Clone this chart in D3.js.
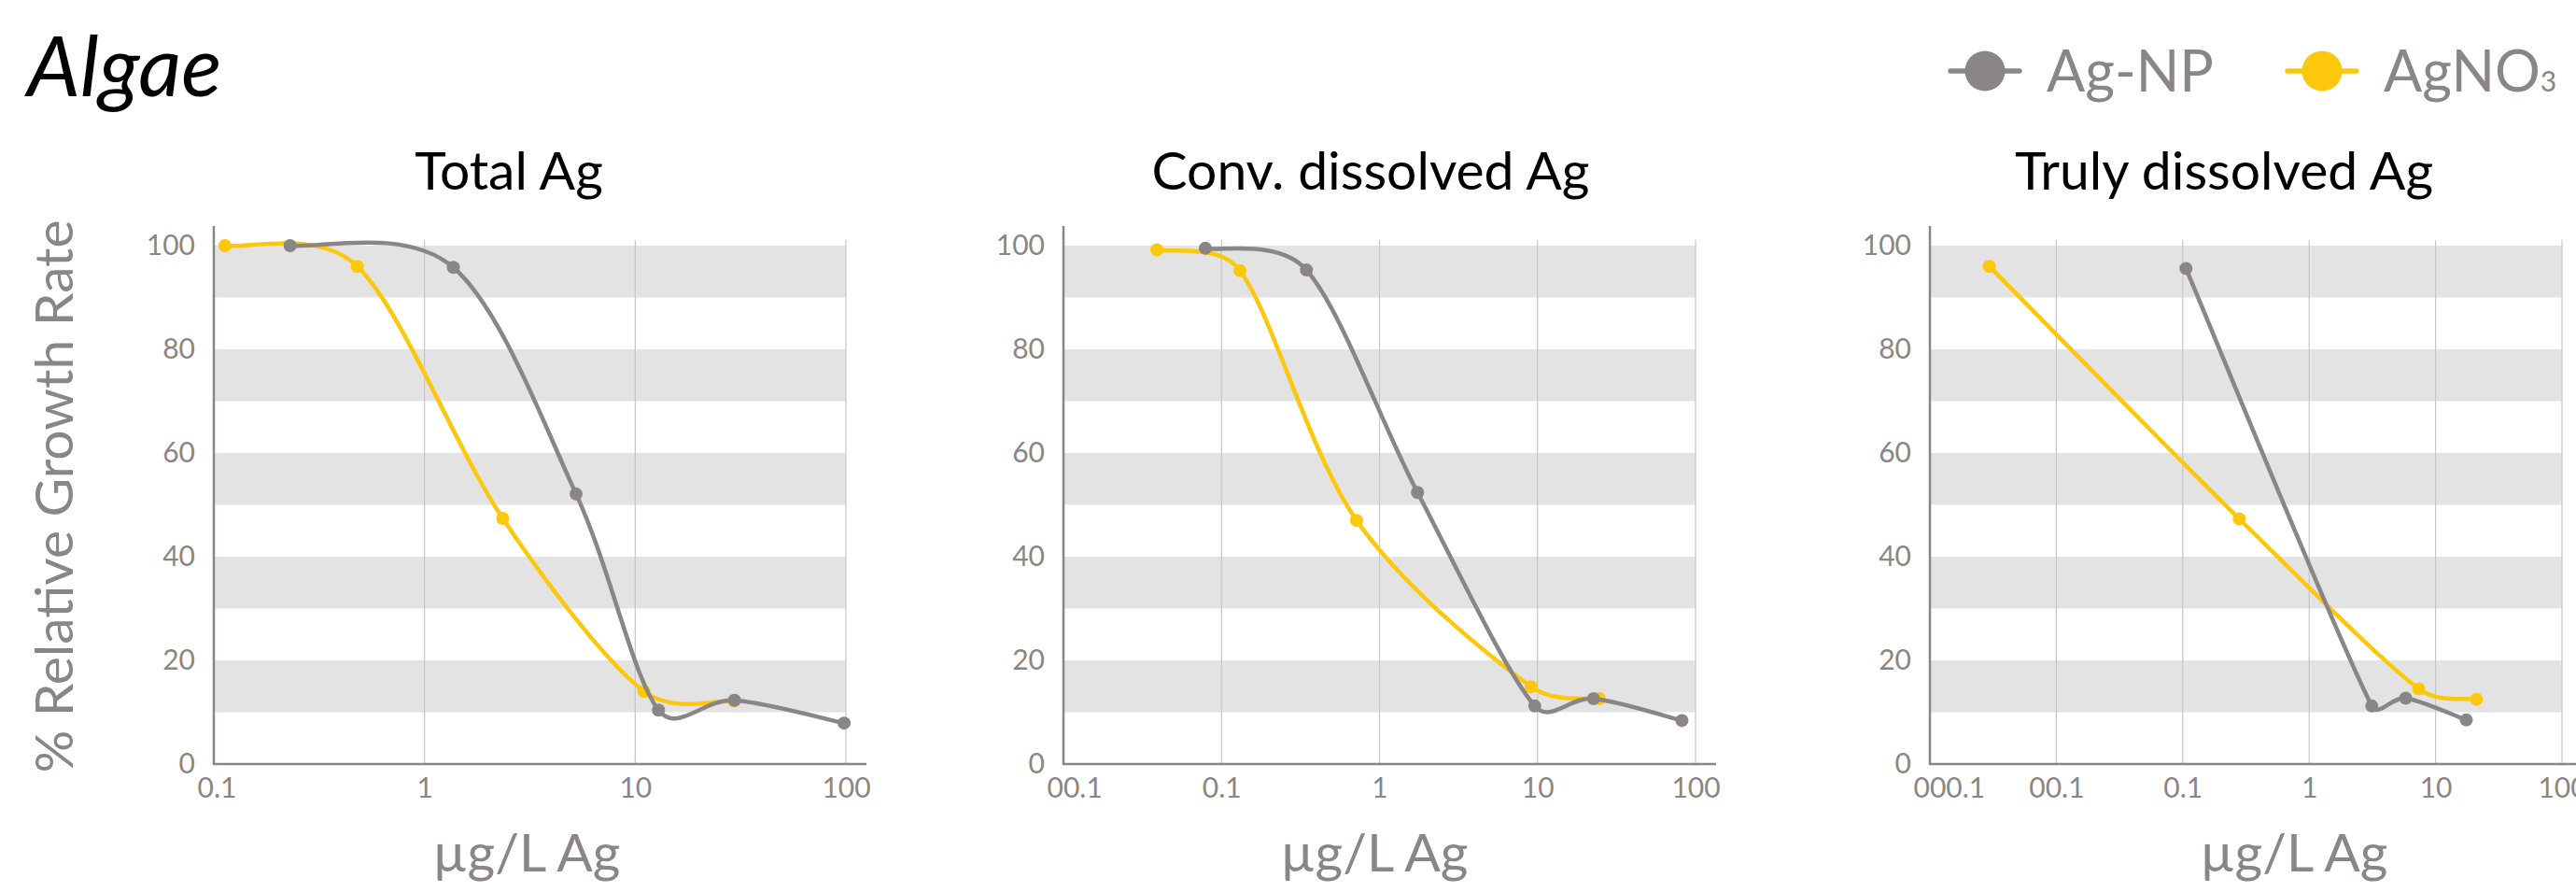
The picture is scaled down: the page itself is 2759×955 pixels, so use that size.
<!DOCTYPE html>
<html>
<head>
<meta charset="utf-8">
<script src="https://cdn.jsdelivr.net/npm/d3@7"></script>
<style>
  body { margin: 0; background: #fff; }
  svg { display: block; font-family: Lato, 'Open Sans', sans-serif; }
</style>
</head>
<body>
<svg id="svg" width="2759" height="955"></svg>
<script>
// chart data
const panelTitles = ['Total Ag', 'Conv. dissolved Ag', 'Truly dissolved Ag'];
const xTickValues = [
  [0.1, 1, 10, 100],
  [0.01, 0.1, 1, 10, 100],
  [0.001, 0.01, 0.1, 1, 10, 100]
];
const xTickLabels = [
  ['0.1', '1', '10', '100'],
  ['00.1', '0.1', '1', '10', '100'],
  ['000.1', '00.1', '0.1', '1', '10', '100']
];
const yTickValues = [0, 20, 40, 60, 80, 100];
const bandRanges = [[10, 20], [30, 40], [50, 60], [70, 80], [90, 100]];

const agnpConc = [
  [0.23, 1.37, 5.24, 12.9, 29.6, 98],
  [0.079, 0.345, 1.74, 9.6, 22.6, 82],
  [0.106, 3.13, 5.8, 17.5]
];
const agnpRate = [
  [100, 95.8, 52.1, 10.4, 12.3, 7.9],
  [99.5, 95.3, 52.4, 11.2, 12.6, 8.4],
  [95.6, 11.2, 12.7, 8.5]
];
const agno3Conc = [
  [0.113, 0.48, 2.35, 11.0, 29.4],
  [0.039, 0.131, 0.716, 9.1, 24.6],
  [0.00295, 0.28, 7.35, 21.1]
];
const agno3Rate = [
  [100, 96.0, 47.4, 14.0, 12.2],
  [99.2, 95.2, 47.0, 14.9, 12.6],
  [96.0, 47.3, 14.5, 12.5]
];

const seriesNames = ['Ag-NP', 'AgNO'];
const GRAY = '#8a8685';
const YELLOW = '#fdc70c';
const BAND = '#e4e3e4';
const GRID = '#c6c6c6';

// layout
const panelLeft = [229, 1139, 2067];
const titleOffset = [316, 329, 315];
const xTitleOffset = [335, 333, 390];
const plotW = 677;
const y0 = 818, y100 = 263;

// spreadsheet-style smoothed line: bezier with (next - prev)/6 tangents,
// capped at 0.4 of the segment so short segments don't overshoot much
function smoothPath(pts) {
  const p = d3.path();
  p.moveTo(pts[0][0], pts[0][1]);
  const tangent = (a, b, len) => {
    let tx = (b[0] - a[0]) / 6, ty = (b[1] - a[1]) / 6;
    const m = Math.hypot(tx, ty), cap = len * 0.4;
    if (m > cap) { tx *= cap / m; ty *= cap / m; }
    return [tx, ty];
  };
  for (let i = 0; i < pts.length - 1; i++) {
    const p0 = pts[Math.max(i - 1, 0)], p1 = pts[i], p2 = pts[i + 1], p3 = pts[Math.min(i + 2, pts.length - 1)];
    const len = Math.hypot(p2[0] - p1[0], p2[1] - p1[1]);
    const t1 = tangent(p0, p2, len), t2 = tangent(p1, p3, len);
    p.bezierCurveTo(p1[0] + t1[0], p1[1] + t1[1], p2[0] - t2[0], p2[1] - t2[1], p2[0], p2[1]);
  }
  return p.toString();
}

const svg = d3.select('#svg');
const y = d3.scaleLinear().domain([0, 100]).range([y0, y100]);

svg.append('text')
  .attr('x', 29).attr('y', 103)
  .attr('font-size', 90).attr('font-style', 'italic')
  .attr('fill', '#000')
  .text('Algae');

svg.append('text')
  .attr('transform', `translate(78,${(y0 + 245) / 2}) rotate(-90)`)
  .attr('text-anchor', 'middle')
  .attr('font-size', 57).attr('fill', GRAY)
  .text('% Relative Growth Rate');

panelTitles.forEach((title, p) => {
  const left = panelLeft[p];
  const ticks = xTickValues[p];
  const x = d3.scaleLog().domain([ticks[0], ticks[ticks.length - 1]]).range([left, left + plotW]);
  const g = svg.append('g');

  g.selectAll('rect.band').data(bandRanges).enter().append('rect')
    .attr('class', 'band')
    .attr('x', left).attr('width', plotW)
    .attr('y', d => y(d[1])).attr('height', d => y(d[0]) - y(d[1]))
    .attr('fill', BAND);

  g.selectAll('line.grid').data(ticks.slice(1)).enter().append('line')
    .attr('class', 'grid')
    .attr('x1', d => x(d)).attr('x2', d => x(d))
    .attr('y1', y(100) - 6).attr('y2', y0)
    .attr('stroke', GRID).attr('stroke-width', 1.2);

  // axes lines
  g.append('line')
    .attr('x1', left).attr('x2', left)
    .attr('y1', y(100) - 21).attr('y2', y0 + 1)
    .attr('stroke', GRAY).attr('stroke-width', 2.5);
  g.append('line')
    .attr('x1', left - 1).attr('x2', left + plotW + 22)
    .attr('y1', y0).attr('y2', y0)
    .attr('stroke', GRAY).attr('stroke-width', 2.5);

  const xAxis = g.append('g')
    .attr('transform', `translate(0,${y0})`)
    .call(d3.axisBottom(x).tickValues(ticks).tickFormat((d, i) => xTickLabels[p][i]).tickSize(0).tickPadding(15));
  const yAxis = g.append('g')
    .attr('transform', `translate(${left},0)`)
    .call(d3.axisLeft(y).tickValues(yTickValues).tickFormat(d3.format('d')).tickSize(0).tickPadding(20));
  [xAxis, yAxis].forEach(a => {
    a.select('.domain').remove();
    a.selectAll('text').attr('font-size', 30).attr('fill', GRAY).attr('font-family', 'Lato, sans-serif');
  });
  // first x label is pushed right so it clears the "0"
  xAxis.selectAll('.tick text').filter((d, i) => i === 0).each(function () {
    const w = this.getBBox().width;
    if (w / 2 > 18) d3.select(this).attr('dx', w / 2 - 18);
  });

  g.append('text')
    .attr('x', left + titleOffset[p]).attr('y', 203)
    .attr('text-anchor', 'middle').attr('font-size', 57).attr('fill', '#000')
    .text(title);

  g.append('text')
    .attr('x', left + xTitleOffset[p]).attr('y', 933)
    .attr('text-anchor', 'middle').attr('font-size', 57).attr('fill', GRAY)
    .text('µg/L Ag');

  const series = [
    { conc: agnpConc[p], rate: agnpRate[p], color: GRAY },
    { conc: agno3Conc[p], rate: agno3Rate[p], color: YELLOW }
  ];
  // yellow first so gray sits on top where they overlap
  [series[1], series[0]].forEach(s => {
    const pts = s.conc.map((c, i) => [x(c), y(s.rate[i])]);
    g.append('path')
      .attr('d', smoothPath(pts))
      .attr('fill', 'none').attr('stroke', s.color).attr('stroke-width', 4.5);
    g.selectAll(null).data(pts).enter().append('circle')
      .attr('cx', d => d[0]).attr('cy', d => d[1])
      .attr('r', 7).attr('fill', s.color);
  });
});

// legend
const legend = svg.append('g');
const legendX = [2126, 2487];
[GRAY, YELLOW].forEach((c, i) => {
  const cx = legendX[i];
  legend.append('line')
    .attr('x1', cx - 37).attr('x2', cx + 37).attr('y1', 76).attr('y2', 76)
    .attr('stroke', c).attr('stroke-width', 5.3).attr('stroke-linecap', 'round');
  legend.append('circle').attr('cx', cx).attr('cy', 76).attr('r', 21.5).attr('fill', c);
  const t = legend.append('text')
    .attr('x', cx + 66).attr('y', 98)
    .attr('font-size', 61).attr('fill', GRAY)
    .text(seriesNames[i]);
  if (i === 1) t.append('tspan').attr('font-size', 30).text('3');
});
</script>
</body>
</html>
